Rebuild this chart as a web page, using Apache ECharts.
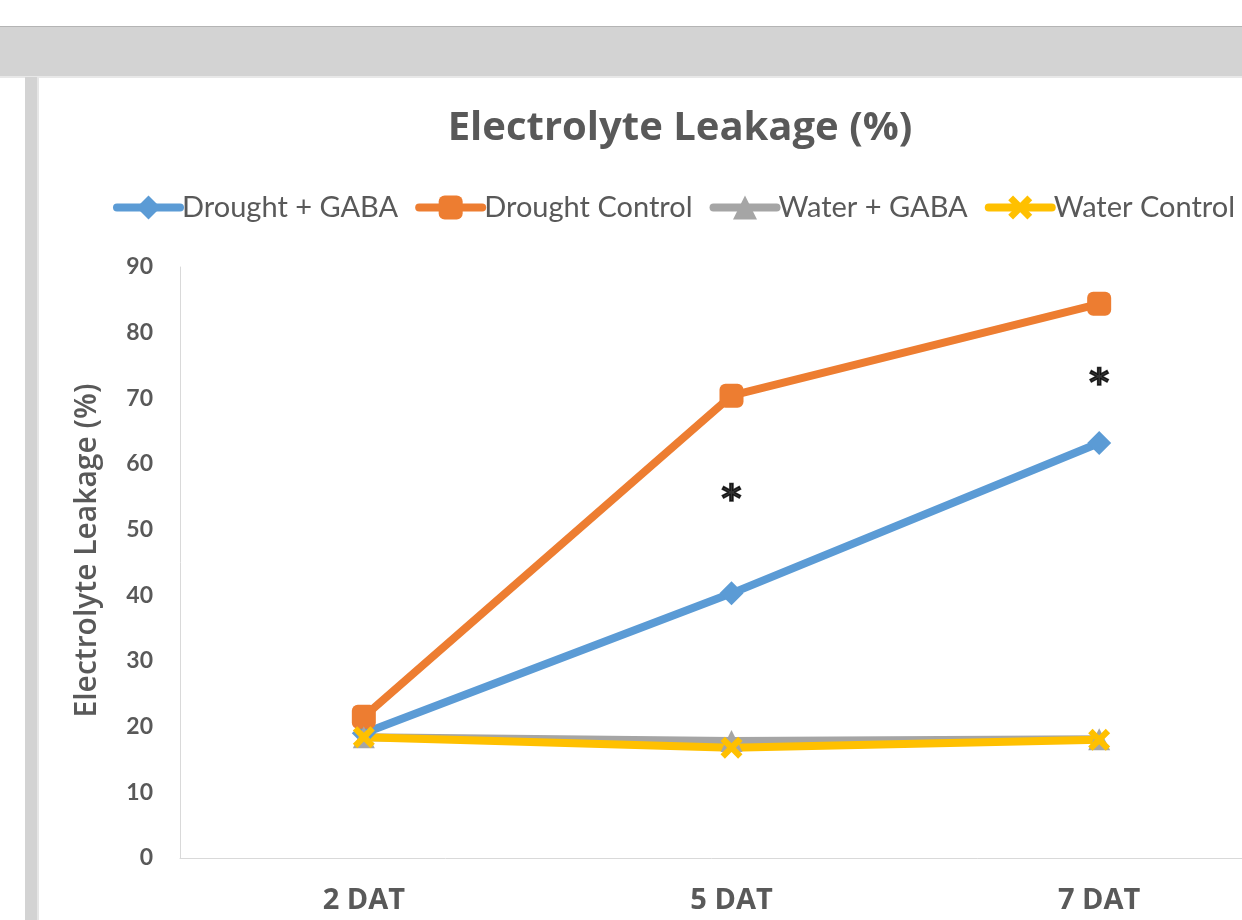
<!DOCTYPE html>
<html>
<head>
<meta charset="utf-8">
<script src="https://cdn.jsdelivr.net/npm/echarts@6/dist/echarts.min.js"></script>
<style>
  html, body { margin: 0; padding: 0; background: #ffffff; }
  #chart { width: 1242px; height: 920px; }
</style>
</head>
<body>
<div id="chart"></div>
<script>
// Days after treatment
const categories = ['2 DAT', '5 DAT', '7 DAT'];

// Electrolyte leakage (%) per treatment
const droughtGaba    = [19.0, 40.3, 63.2];
const droughtControl = [21.5, 70.4, 84.4];
const waterGaba      = [18.4, 17.8, 18.1];
const waterControl   = [18.4, 16.8, 18.0];

// Significance marks placed above the pairs that differ
const significance = [null, 55.7, 73.4];

const yTicks = { min: 0, max: 90, interval: 10 };

const TEXT = '#595959';
const FONT = 'Lato, "Open Sans", sans-serif';
const WIDE = '"Open Sans", Lato, sans-serif';

const xShape = 'path://M2,0 L5,3 L8,0 L10,2 L7,5 L10,8 L8,10 L5,7 L2,10 L0,8 L3,5 L0,2 Z';

function lineSeries(name, data, color, symbol, size) {
  return {
    name: name,
    type: 'line',
    data: data,
    symbol: symbol,
    symbolSize: size,
    lineStyle: { color: color, width: 8, cap: 'round', join: 'round' },
    itemStyle: { color: color },
    emphasis: { disabled: true }
  };
}

const chart = echarts.init(document.getElementById('chart'));
chart.setOption({
  animation: false,
  backgroundColor: '#ffffff',
  graphic: [
    { type: 'rect', shape: { x: 0, y: 26, width: 1242, height: 1 }, style: { fill: '#b4b4b4' }, silent: true },
    { type: 'rect', shape: { x: 0, y: 27, width: 1242, height: 49 }, style: { fill: '#d3d3d3' }, silent: true },
    { type: 'rect', shape: { x: 0, y: 76, width: 1242, height: 2 }, style: { fill: '#e8e8e8' }, silent: true },
    { type: 'rect', shape: { x: 25, y: 77, width: 12, height: 843 }, style: { fill: '#d3d3d3' }, silent: true },
    { type: 'rect', shape: { x: 37, y: 77, width: 2, height: 843 }, style: { fill: '#e6e6e6' }, silent: true }
  ],
  title: {
    text: 'Electrolyte Leakage (%)',
    left: 675,
    top: 104,
    textAlign: 'center',
    textStyle: { fontFamily: WIDE, fontSize: 40, fontWeight: 'bold', color: TEXT }
  },
  legend: {
    left: 113,
    top: 193,
    width: 1240,
    padding: 0,
    itemWidth: 63,
    itemHeight: 30,
    itemGap: 17,
    lineStyle: { width: 8, cap: 'round' },
    textStyle: { fontFamily: FONT, fontSize: 29, color: TEXT, padding: [0, 0, 0, -3] },
    data: ['Drought + GABA', 'Drought Control', 'Water + GABA', 'Water Control']
  },
  grid: { left: 180, width: 1103, top: 267, bottom: 62, containLabel: false, outerBoundsMode: 'none' },
  xAxis: {
    type: 'category',
    data: categories,
    axisLine: { lineStyle: { color: '#d9d9d9', width: 1 } },
    axisTick: { show: false },
    axisLabel: { fontFamily: WIDE, fontSize: 29, fontWeight: 'bold', color: TEXT, margin: 28 }
  },
  yAxis: {
    type: 'value',
    min: yTicks.min,
    max: yTicks.max,
    interval: yTicks.interval,
    name: 'Electrolyte Leakage (%)',
    nameLocation: 'middle',
    nameRotate: 90,
    nameGap: 78,
    nameTextStyle: { fontFamily: WIDE, fontSize: 30, color: TEXT, fontWeight: 600, padding: [0, 0, 0, 24] },
    axisLine: { show: true, lineStyle: { color: '#d9d9d9', width: 1 } },
    axisTick: { show: false },
    splitLine: { show: false },
    axisLabel: { fontFamily: FONT, fontSize: 23, fontWeight: 'bold', color: TEXT, margin: 27 }
  },
  series: [
    lineSeries('Drought + GABA', droughtGaba, '#5B9BD5', 'diamond', 24),
    lineSeries('Drought Control', droughtControl, '#ED7D31', 'roundRect', 24),
    lineSeries('Water + GABA', waterGaba, '#A5A5A5', 'triangle', 22),
    lineSeries('Water Control', waterControl, '#FFC000', xShape, 22),
    {
      type: 'scatter',
      data: significance,
      symbolSize: 2,
      itemStyle: { color: 'rgba(0,0,0,0)' },
      silent: true,
      label: {
        show: true,
        position: 'inside',
        formatter: '*',
        offset: [0, 9],
        fontFamily: '"DejaVu Sans", sans-serif',
        fontSize: 38,
        fontWeight: 'bold',
        color: '#000000',
        textBorderColor: '#000000',
        textBorderWidth: 1.5
      }
    }
  ]
});
</script>
</body>
</html>
